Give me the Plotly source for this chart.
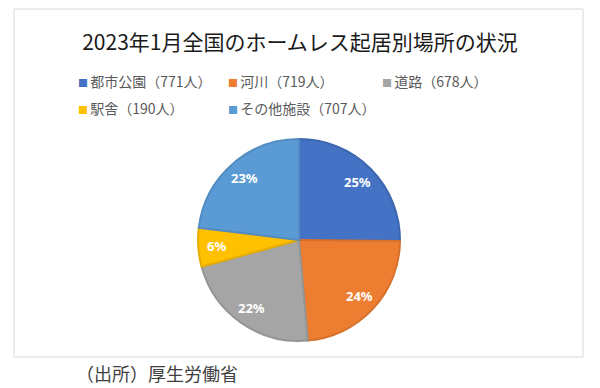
import math
import plotly.graph_objects as go

W, H = 600, 388

categories = ["都市公園", "河川", "道路", "駅舎", "その他施設"]
counts = [771, 719, 678, 190, 707]
pct_labels = ["25%", "24%", "22%", "6%", "23%"]
colors = ["#4472C4", "#ED7D31", "#A5A5A5", "#FFC000", "#5B9BD5"]
edge_colors = ["#3E67B1", "#D6702B", "#959595", "#E6AD00", "#528CC0"]
title_text = "2023年1月全国のホームレス起居別場所の状況"
source_text = "（出所）厚生労働省"

legend_labels = [f"{c}（{n}人）" for c, n in zip(categories, counts)]

def px(x):
    return x / W

def py(y):
    return 1 - y / H

cx, cy, r = 299, 240, 101

fig = go.Figure(go.Pie(
    labels=legend_labels,
    values=counts,
    sort=False,
    direction="clockwise",
    rotation=0,
    marker=dict(colors=colors, line=dict(color=edge_colors, width=2)),
    textinfo="none",
    domain=dict(x=[px(cx - r), px(cx + r)], y=[py(cy + r), py(cy - r)]),
    hoverinfo="label+percent",
    showlegend=False,
))

annotations = []

# slice labels at ~0.82 radius along each slice's mid angle
total = sum(counts)
cum = 0
for v, t in zip(counts, pct_labels):
    mid = (cum + v / 2) / total * 2 * math.pi
    cum += v
    lx = cx + 0.82 * r * math.sin(mid)
    ly = cy - 0.82 * r * math.cos(mid)
    annotations.append(dict(
        text=f"<b>{t}</b>", xref="paper", yref="paper",
        x=px(lx), y=py(ly), xanchor="center", yanchor="middle",
        showarrow=False,
        font=dict(family="Noto Sans", size=13, color="white"),
    ))

# legend entries (3 columns, 2 rows)
col_x = [76, 226, 380]
row_y = [81, 108]
for i, (lab, col) in enumerate(zip(legend_labels, colors)):
    x = col_x[i % 3]
    y = row_y[i // 3]
    annotations.append(dict(
        text=f'<span style="color:{col};font-size:10px">■ </span>{lab}',
        xref="paper", yref="paper",
        x=px(x), y=py(y), xanchor="left", yanchor="middle",
        showarrow=False,
        font=dict(family="Noto Sans CJK JP", size=14, color="#595959"),
    ))

annotations.append(dict(
    text=source_text, xref="paper", yref="paper",
    x=px(74), y=py(373), xanchor="left", yanchor="middle",
    showarrow=False,
    font=dict(family="Noto Sans CJK JP", size=18, color="#404040"),
))

fig.update_layout(
    width=W, height=H,
    margin=dict(l=0, r=0, t=0, b=0),
    paper_bgcolor="white",
    plot_bgcolor="white",
    font=dict(family="Noto Sans CJK JP", color="#595959"),
    title=dict(
        text=title_text,
        x=0.5, xanchor="center",
        y=py(43), yanchor="middle",
        font=dict(family="Noto Sans CJK JP", size=21, color="#1a1a1a"),
    ),
    shapes=[dict(
        type="rect", xref="paper", yref="paper",
        x0=px(14), x1=px(583), y0=py(357), y1=py(9),
        line=dict(color="#D9D9D9", width=1), fillcolor="rgba(0,0,0,0)",
        layer="below",
    )],
    annotations=annotations,
)

fig.write_html("out.html")
